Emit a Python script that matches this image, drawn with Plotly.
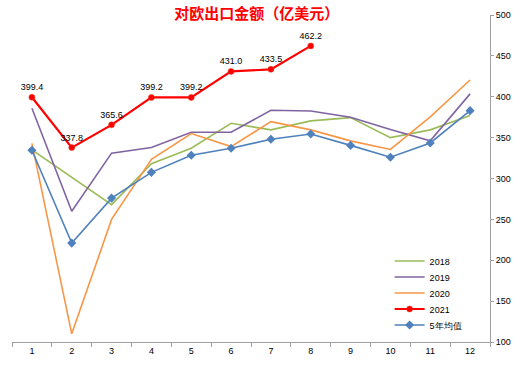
import plotly.graph_objects as go

months = ["1", "2", "3", "4", "5", "6", "7", "8", "9", "10", "11", "12"]
y2018 = [335, 301, 268, 318, 337, 367.5, 359.5, 370.5, 374.5, 350, 359.5, 377]
y2019 = [386, 260, 331, 338, 356.5, 356.5, 383.5, 382.5, 375, 360, 346, 403.5]
y2020 = [343, 110, 250, 323.5, 355, 339, 369.5, 359.5, 346, 335.5, 375.5, 420.5]
y2021 = [399.4, 337.8, 365.6, 399.2, 399.2, 431.0, 433.5, 462.2]
avg5 = [334.5, 221, 276, 307.5, 328.5, 337, 348, 354.5, 340.5, 326, 343.5, 383]
yticks = [100, 150, 200, 250, 300, 350, 400, 450, 500]

FONT = "Liberation Sans"

fig = go.Figure()
fig.add_trace(go.Scatter(x=months, y=y2018, name="2018", mode="lines", legend="legend",
                         line=dict(color="#9BBB59", width=1.6)))
fig.add_trace(go.Scatter(x=months, y=y2019, name="2019", mode="lines", legend="legend2",
                         line=dict(color="#8064A2", width=1.6)))
fig.add_trace(go.Scatter(x=months, y=y2020, name="2020", mode="lines", legend="legend3",
                         line=dict(color="#F79646", width=1.6)))
fig.add_trace(go.Scatter(x=months[:len(y2021)], y=y2021, name="2021", mode="lines+markers+text",
                         legend="legend4",
                         line=dict(color="#FF0000", width=2.2),
                         marker=dict(color="#FF0000", size=6, symbol="circle",
                                     line=dict(color="#E04020", width=0.5)),
                         text=[f"{v:.1f}" for v in y2021], textposition="top center",
                         textfont=dict(family=FONT, size=9, color="#000000")))
fig.add_trace(go.Scatter(x=months, y=avg5, name="5年均值", mode="lines+markers", legend="legend5",
                         line=dict(color="#4F81BD", width=1.6),
                         marker=dict(color="#4F81BD", size=7, symbol="diamond")))

def leg(cy):
    return dict(x=0.79, y=(342 - cy) / 327, xanchor="left", yanchor="middle",
                bgcolor="rgba(0,0,0,0)", font=dict(family=FONT, size=9),
                itemwidth=30, borderwidth=0)

fig.update_layout(
    width=522, height=368,
    margin=dict(l=12, r=32, t=15, b=26, autoexpand=False),
    paper_bgcolor="white", plot_bgcolor="white",
    font=dict(family=FONT, size=9, color="#000000"),
    title=dict(text="<b>对欧出口金额（亿美元）</b>", x=0.492, xanchor="center",
               y=0.962, yanchor="middle",
               font=dict(family="Noto Sans CJK SC", size=15, color="#FF0000")),
    showlegend=True,
    legend=leg(261), legend2=leg(277), legend3=leg(293), legend4=leg(309), legend5=leg(325),
    xaxis=dict(type="category", range=[-0.5, 11.5], tickson="boundaries", ticks="outside",
               ticklen=4, tickcolor="#A0A0A0", showline=True, linecolor="#A0A0A0", linewidth=1,
               showgrid=False, zeroline=False, tickfont=dict(size=9), automargin=False),
    yaxis=dict(range=[100, 500], tickvals=yticks, side="right", ticks="outside",
               ticklen=3, tickcolor="#A0A0A0", showline=True, linecolor="#A0A0A0",
               linewidth=1, showgrid=False, zeroline=False, tickfont=dict(size=9),
               automargin=False),
)

fig.write_html("out.html", config={"displayModeBar": False},
               post_script="document.body.style.margin='0';")
